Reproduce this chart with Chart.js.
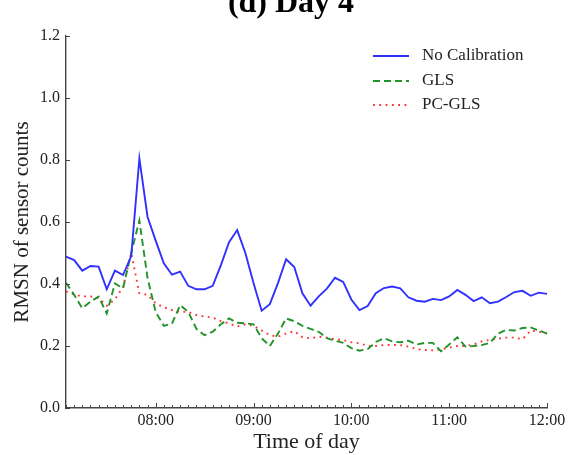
<!DOCTYPE html>
<html>
<head>
<meta charset="utf-8">
<script src="https://cdn.jsdelivr.net/npm/chart.js@4.4.1/dist/chart.umd.min.js"></script>
<style>
  html, body { margin: 0; padding: 0; background: #fff; }
  #wrap { width: 580px; height: 455px; }
</style>
</head>
<body>
<div id="wrap"><canvas id="chart" width="580" height="455"></canvas></div>
<script>
// time of day, 5 minute steps
const times = [
  "07:05","07:10","07:15","07:20","07:25","07:30","07:35","07:40","07:45","07:50","07:55",
  "08:00","08:05","08:10","08:15","08:20","08:25","08:30","08:35","08:40","08:45","08:50","08:55",
  "09:00","09:05","09:10","09:15","09:20","09:25","09:30","09:35","09:40","09:45","09:50","09:55",
  "10:00","10:05","10:10","10:15","10:20","10:25","10:30","10:35","10:40","10:45","10:50","10:55",
  "11:00","11:05","11:10","11:15","11:20","11:25","11:30","11:35","11:40","11:45","11:50","11:55",
  "12:00"
];
const hourLabels = ["08:00","09:00","10:00","11:00","12:00"];
const yTicks = [0.0, 0.2, 0.4, 0.6, 0.8, 1.0, 1.2];

const noCalibration = [
  0.488,0.477,0.443,0.458,0.456,0.383,0.443,0.429,0.490,0.805,
  0.617,0.540,0.467,0.430,0.440,0.394,0.383,0.383,0.394,0.461,
  0.535,0.574,0.500,0.403,0.314,0.335,0.403,0.480,0.455,0.370,
  0.330,0.360,0.385,0.420,0.407,0.350,0.316,0.329,0.370,0.387,
  0.392,0.386,0.357,0.346,0.343,0.352,0.348,0.360,0.381,0.365,
  0.345,0.357,0.338,0.343,0.358,0.374,0.378,0.362,0.372,0.368
];
const gls = [
  0.404,0.365,0.322,0.343,0.359,0.305,0.402,0.386,0.500,0.605,
  0.420,0.310,0.265,0.272,0.332,0.310,0.255,0.235,0.246,0.270,
  0.289,0.275,0.273,0.270,0.225,0.200,0.240,0.289,0.280,0.265,
  0.255,0.246,0.225,0.217,0.210,0.193,0.185,0.190,0.213,0.225,
  0.215,0.212,0.217,0.205,0.210,0.210,0.183,0.205,0.228,0.198,
  0.200,0.203,0.210,0.240,0.252,0.250,0.258,0.260,0.250,0.240
];
const pcGls = [
  0.376,0.366,0.360,0.360,0.355,0.330,0.350,0.390,0.500,0.370,
  0.365,0.338,0.325,0.316,0.310,0.310,0.300,0.295,0.292,0.280,
  0.273,0.263,0.270,0.265,0.250,0.235,0.230,0.240,0.248,0.228,
  0.225,0.230,0.227,0.222,0.219,0.212,0.209,0.200,0.200,0.203,
  0.203,0.203,0.198,0.190,0.187,0.186,0.189,0.195,0.200,0.200,
  0.205,0.215,0.220,0.224,0.227,0.227,0.222,0.250,0.246,0.241
];

const serif = "'Liberation Serif', 'Times New Roman', serif";
const textCol = "#222";
const axisCol = "#444";

// inward tick marks (matplotlib style)
const inwardTicks = {
  id: "inwardTicks",
  afterDatasetsDraw(chart) {
    const ctx = chart.ctx;
    const xs = chart.scales.x, ys = chart.scales.y;
    ctx.save();
    ctx.strokeStyle = axisCol;
    ctx.lineWidth = 1;
    xs.ticks.forEach((t, i) => {
      const px = Math.round(xs.getPixelForTick(i)) + 0.5;
      const len = hourLabels.includes(times[t.value]) ? 5 : 3;
      ctx.beginPath();
      ctx.moveTo(px, xs.top);
      ctx.lineTo(px, xs.top - len);
      ctx.stroke();
    });
    ys.ticks.forEach(t => {
      const py = Math.round(ys.getPixelForValue(t.value)) + 0.5;
      ctx.beginPath();
      ctx.moveTo(ys.right, py);
      ctx.lineTo(ys.right + 4, py);
      ctx.stroke();
    });
    ctx.restore();
  }
};

// title + legend box inside the plot
const decor = {
  id: "decor",
  afterDraw(chart) {
    const ctx = chart.ctx;
    ctx.save();
    ctx.fillStyle = "#000";
    ctx.font = "bold 32px " + serif;
    ctx.textAlign = "center";
    ctx.textBaseline = "alphabetic";
    ctx.fillText("(d) Day 4", 291, 12);

    const rows = [56, 81, 105];
    ctx.font = "17px " + serif;
    ctx.textAlign = "left";
    ctx.textBaseline = "middle";
    chart.data.datasets.forEach((ds, i) => {
      const y = rows[i];
      ctx.strokeStyle = ds.borderColor;
      ctx.lineWidth = ds.borderWidth;
      ctx.setLineDash(ds.borderDash || []);
      ctx.beginPath();
      ctx.moveTo(373, y);
      ctx.lineTo(409, y);
      ctx.stroke();
      ctx.setLineDash([]);
      ctx.fillStyle = textCol;
      ctx.fillText(ds.label, 422, y);
    });
    ctx.restore();
  }
};

new Chart(document.getElementById("chart"), {
  type: "line",
  data: {
    labels: times,
    datasets: [
      { label: "No Calibration", data: noCalibration, borderColor: "#3030ff", borderWidth: 1.9 },
      { label: "GLS", data: gls, borderColor: "#22932a", borderWidth: 1.9, borderDash: [7, 4] },
      { label: "PC-GLS", data: pcGls, borderColor: "#ff3030", borderWidth: 1.9, borderDash: [1.8, 4.5] }
    ]
  },
  options: {
    responsive: false,
    animation: false,
    elements: { point: { radius: 0 }, line: { tension: 0 } },
    layout: { padding: { left: 0, top: 36, right: 33, bottom: 0 } },
    plugins: { legend: { display: false }, tooltip: { enabled: false } },
    scales: {
      x: {
        type: "category",
        offset: false,
        grid: { display: false, drawTicks: false },
        border: { display: true, color: axisCol, width: 1.4 },
        ticks: {
          autoSkip: false,
          maxRotation: 0,
          padding: 3,
          color: textCol,
          font: { family: serif, size: 16 },
          callback: function(v) {
            const l = times[v];
            return hourLabels.includes(l) ? l : "";
          }
        },
        title: {
          display: true, text: "Time of day", color: textCol,
          font: { family: serif, size: 22 }, padding: { top: 0, bottom: 0 }
        },
        afterFit(scale) { scale.height = 47; }
      },
      y: {
        min: 0, max: 1.2,
        afterBuildTicks(scale) { scale.ticks = yTicks.map(v => ({ value: v })); },
        grid: { display: false, drawTicks: false },
        border: { display: true, color: axisCol, width: 1.4 },
        ticks: {
          padding: 6,
          color: textCol,
          font: { family: serif, size: 16 },
          callback: v => v.toFixed(1)
        },
        title: {
          display: true, text: "RMSN of sensor counts", color: textCol,
          font: { family: serif, size: 21 }, padding: { top: 10, bottom: 0 }
        },
        afterFit(scale) { scale.width = 66; }
      }
    }
  },
  plugins: [inwardTicks, decor]
});
</script>
</body>
</html>
